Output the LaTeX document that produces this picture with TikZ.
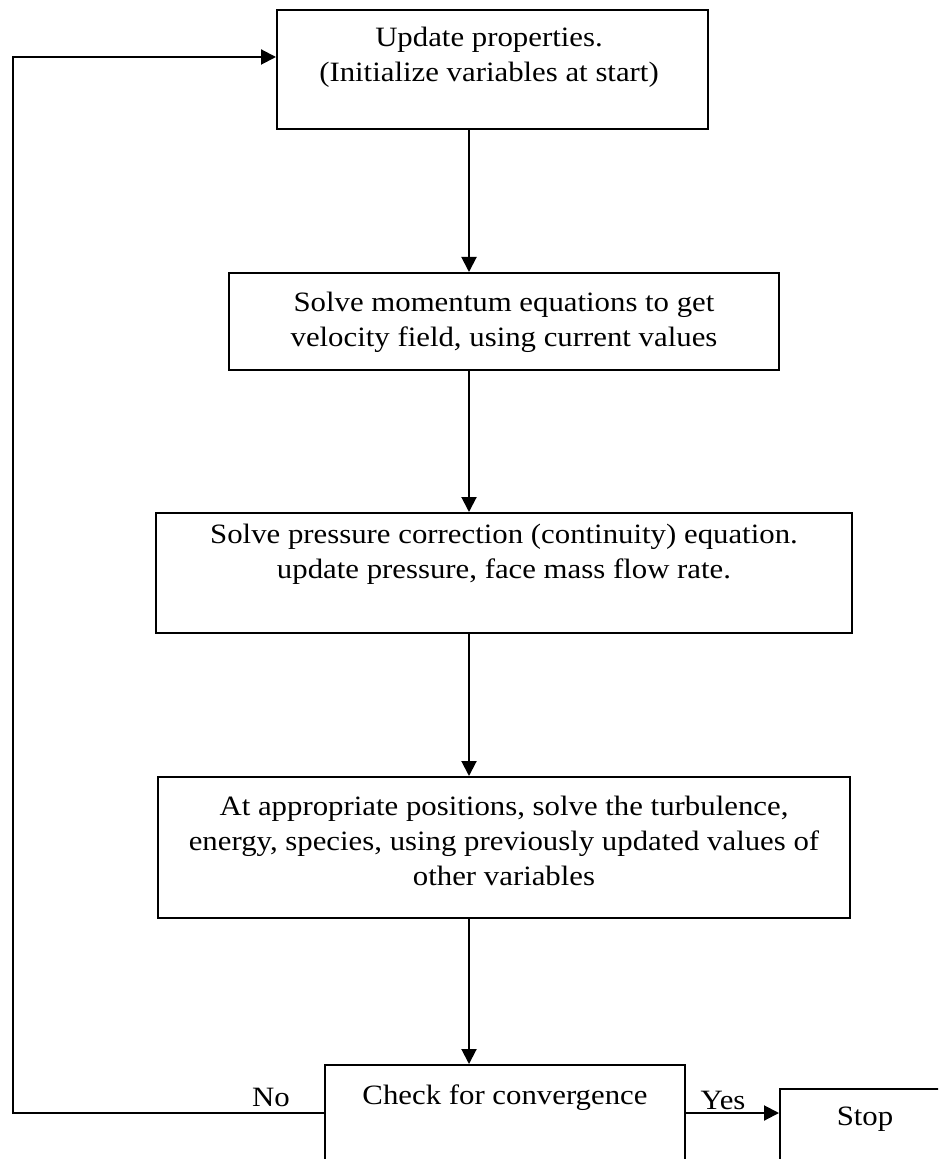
\documentclass[tikz,border=0pt]{standalone}
\usepackage{fontspec}
\setmainfont{Liberation Serif}[FakeStretch=1.1]
\usetikzlibrary{arrows.meta, positioning}

\tikzset{
  stepbox/.style={draw, line width=1pt, rectangle, inner sep=0pt},
  steptext/.style={align=center, inner sep=0pt, font=\fontsize{14pt}{17.5pt}\selectfont},
  flow/.style={line width=1pt, -{Triangle[length=7.5pt, width=7.5pt]}},
}

\begin{document}
\begin{tikzpicture}[x=0.5pt, y=-0.5pt]
  \useasboundingbox (0,0) rectangle (938,1159);
  \clip (0,0) rectangle (938,1159);
  % Boxes
  \node[stepbox, minimum width=215.5pt, minimum height=59.5pt] (upd) at (492.5,69.5) {};
  \node[stepbox, minimum width=275pt, minimum height=48.5pt] (mom) at (504,321.5) {};
  \node[stepbox, minimum width=348pt, minimum height=60pt] (prs) at (504,573) {};
  \node[stepbox, minimum width=346pt, minimum height=70.5pt] (trb) at (504,847.5) {};
  \node[stepbox, minimum width=180pt, minimum height=48pt] (chk) at (505,1113) {};
  \node[stepbox, minimum width=85pt, minimum height=43pt] (stp) at (865,1132) {};
  % Texts (top aligned in their boxes)
  \node[steptext, anchor=north] (updtxt) at (489,27)
     {Update properties.\\(Initialize variables at start)};
  \node[steptext, anchor=north] (momtxt) at (504,292)
     {Solve momentum equations to get\\velocity field, using current values};
  \node[steptext, anchor=north] (prstxt) at (504,524)
     {Solve pressure correction (continuity) equation.\\update pressure, face mass flow rate.};
  \node[steptext, anchor=north] (trbtxt) at (504,796)
     {At appropriate positions, solve the turbulence,\\energy, species, using previously updated values of\\other variables};
  \node[steptext, anchor=north] (chktxt) at (505,1084) {Check for convergence};
  \node[steptext, anchor=north] (stptxt) at (865,1107) {Stop};
  % Main spine
  \coordinate (spine) at (469,0);
  \foreach \a/\b in {upd/mom, mom/prs, prs/trb, trb/chk}
     \draw[flow] (spine |- \a.south) -- (spine |- \b.north);
  % Converged: go to stop
  \draw[flow] (chk.east) -- (chk.east -| stp.west);
  \node[steptext] (yes) at (723,1100) {Yes};
  % Not converged: back to top
  \coordinate (loop) at (13,57);
  \draw[flow] (chk.west) -| (loop) -- (loop -| upd.west);
  \node[steptext] (no) at (271,1097) {No};
\end{tikzpicture}
\end{document}
